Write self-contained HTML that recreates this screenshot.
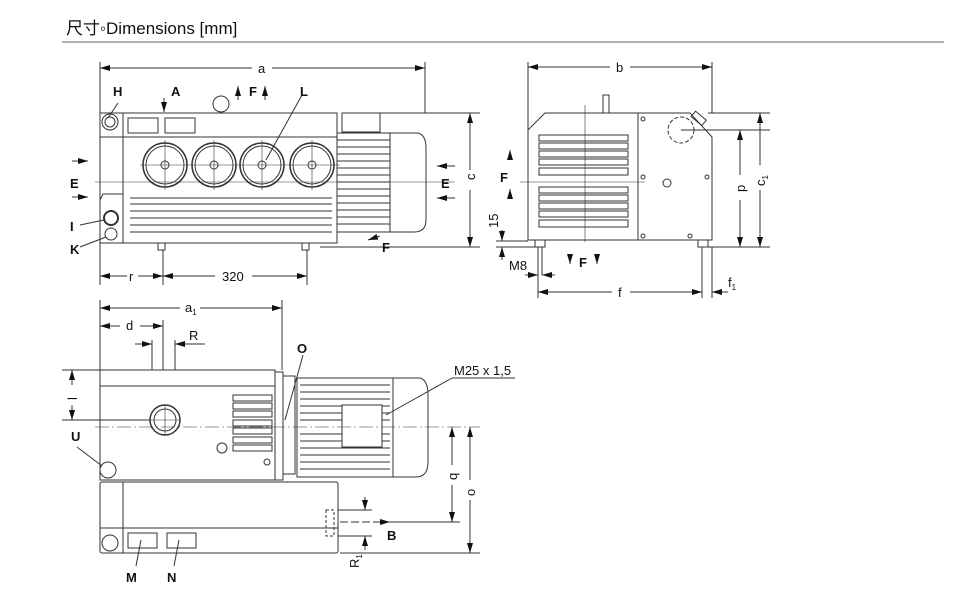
<!DOCTYPE html>
<html><head><meta charset="utf-8"><style>
body{margin:0;background:#fff;width:960px;height:613px;overflow:hidden}
svg{display:block}
text{font-family:"Liberation Sans","Noto Sans CJK SC",sans-serif;fill:#111}
.b{font-weight:bold;font-size:13px}
.d{font-size:13px}
</style></head><body>
<svg width="960" height="613" viewBox="0 0 960 613" xmlns="http://www.w3.org/2000/svg">
<defs>
<marker id="ar" viewBox="0 0 10 6" refX="10" refY="3" markerWidth="10" markerHeight="6" orient="auto-start-reverse" markerUnits="userSpaceOnUse"><path d="M0,0L10,3L0,6z" fill="#111"/></marker>
</defs>
<text x="66" y="34" font-size="17" style="font-family:'Liberation Sans','Noto Sans CJK SC',sans-serif">尺寸◦Dimensions [mm]</text>
<line x1="62" y1="42" x2="944" y2="42" stroke="#666" stroke-width="1"/>

<g stroke="#333" stroke-width="1" fill="none">
<!-- VIEW 1 -->
<line x1="100" y1="62" x2="100" y2="285"/><line x1="425" y1="62" x2="425" y2="113"/>
<line x1="100" y1="68" x2="252" y2="68" marker-start="url(#ar)"/><line x1="272" y1="68" x2="425" y2="68" marker-end="url(#ar)"/>
<rect x="100" y="113" width="237" height="130" fill="#fff"/>
<line x1="123" y1="113" x2="123" y2="243"/>
<line x1="100" y1="137" x2="337" y2="137"/>
<rect x="128" y="118" width="30" height="15"/><rect x="165" y="118" width="30" height="15"/>
<circle cx="110" cy="122" r="8"/><circle cx="110" cy="122" r="5"/>
<path d="M100 200 L103 194 H123"/>
<circle cx="111" cy="218" r="7" stroke-width="2"/><circle cx="111" cy="234" r="6"/>
<g>
<circle cx="165" cy="165" r="22" stroke-width="1.5"/><circle cx="165" cy="165" r="19"/><circle cx="165" cy="165" r="4"/>
<circle cx="214" cy="165" r="22" stroke-width="1.5"/><circle cx="214" cy="165" r="19"/><circle cx="214" cy="165" r="4"/>
<circle cx="262" cy="165" r="22" stroke-width="1.5"/><circle cx="262" cy="165" r="19"/><circle cx="262" cy="165" r="4"/>
<circle cx="312" cy="165" r="22" stroke-width="1.5"/><circle cx="312" cy="165" r="19"/><circle cx="312" cy="165" r="4"/>
<path d="M140 165H340M165 140V190M214 140V190M262 140V190M312 140V190" stroke-width="0.6"/>
</g>
<path d="M130 198H332M130 204H332M130 211H332M130 218H332M130 225H332M130 232H332"/>
<rect x="337" y="133" width="53" height="99"/>
<path d="M337 140H390M337 147H390M337 154H390M337 161H390M337 168H390M337 175H390M337 182H390M337 189H390M337 196H390M337 203H390M337 210H390M337 217H390M337 224H390"/>
<path d="M390 133 H418 Q426 135 426 148 V220 Q426 232 414 232 H390"/>
<rect x="342" y="113" width="38" height="19"/>
<circle cx="221" cy="104" r="8"/>
<rect x="158" y="243" width="7" height="7"/><rect x="302" y="243" width="7" height="7"/>
<line x1="163" y1="250" x2="163" y2="285"/><line x1="307" y1="250" x2="307" y2="285"/>
<line x1="100" y1="276" x2="127" y2="276" marker-start="url(#ar)"/><line x1="138" y1="276" x2="163" y2="276" marker-end="url(#ar)"/>
<line x1="163" y1="276" x2="215" y2="276" marker-start="url(#ar)"/><line x1="252" y1="276" x2="307" y2="276" marker-end="url(#ar)"/>
<line x1="380" y1="113" x2="480" y2="113"/><line x1="320" y1="247" x2="480" y2="247"/>
<line x1="470" y1="113" x2="470" y2="170" marker-start="url(#ar)"/><line x1="470" y1="190" x2="470" y2="247" marker-end="url(#ar)"/>
<line x1="95" y1="182" x2="455" y2="182" stroke-width="0.6"/>
<line x1="164" y1="98" x2="164" y2="112" marker-end="url(#ar)"/>
<line x1="238" y1="100" x2="238" y2="86" marker-end="url(#ar)"/><line x1="265" y1="100" x2="265" y2="86" marker-end="url(#ar)"/>
<line x1="72" y1="161" x2="88" y2="161" marker-end="url(#ar)"/><line x1="72" y1="197" x2="88" y2="197" marker-end="url(#ar)"/>
<line x1="455" y1="166" x2="437" y2="166" marker-end="url(#ar)"/><line x1="455" y1="198" x2="437" y2="198" marker-end="url(#ar)"/>
<line x1="380" y1="236" x2="368" y2="240" marker-end="url(#ar)"/>
<line x1="302" y1="95" x2="266" y2="160"/><line x1="118" y1="103" x2="108" y2="118"/>
<line x1="80" y1="225" x2="104" y2="220"/><line x1="80" y1="247" x2="106" y2="237"/>

<!-- VIEW 2 -->
<line x1="528" y1="62" x2="528" y2="130"/><line x1="712" y1="62" x2="712" y2="113"/>
<line x1="528" y1="67" x2="610" y2="67" marker-start="url(#ar)"/><line x1="630" y1="67" x2="712" y2="67" marker-end="url(#ar)"/>
<path d="M528 130 L545 113 H638 V240 H528 Z" fill="#fff"/>
<path d="M539 135h89v6h-89zM539 143h89v6h-89zM539 151h89v6h-89zM539 159h89v6h-89zM539 168h89v7h-89zM539 187h89v6h-89zM539 195h89v6h-89zM539 203h89v6h-89zM539 211h89v6h-89zM539 220h89v7h-89z"/>
<path d="M638 113 H690 L712 137 V240 H638 Z" fill="#fff"/>
<circle cx="681" cy="130" r="13" stroke-dasharray="4 2"/>
<circle cx="643" cy="119" r="2"/><circle cx="643" cy="177" r="2"/><circle cx="643" cy="236" r="2"/><circle cx="707" cy="177" r="2"/><circle cx="690" cy="236" r="2"/><circle cx="667" cy="183" r="4"/>
<rect x="692" y="115" width="14" height="7" transform="rotate(40 699 118)"/>
<rect x="603" y="95" width="6" height="18"/>
<rect x="535" y="240" width="10" height="7"/><rect x="698" y="240" width="10" height="7"/>
<line x1="520" y1="182" x2="645" y2="182" stroke-width="0.6"/><line x1="585" y1="105" x2="585" y2="242" stroke-width="0.6"/>
<line x1="681" y1="130" x2="770" y2="130"/><line x1="708" y1="113" x2="770" y2="113"/><line x1="708" y1="247" x2="770" y2="247"/>
<line x1="740" y1="130" x2="740" y2="175" marker-start="url(#ar)"/><line x1="740" y1="200" x2="740" y2="247" marker-end="url(#ar)"/>
<line x1="760" y1="113" x2="760" y2="165" marker-start="url(#ar)"/><line x1="760" y1="190" x2="760" y2="247" marker-end="url(#ar)"/>
<line x1="496" y1="241" x2="528" y2="241"/><line x1="496" y1="247" x2="535" y2="247"/>
<line x1="502" y1="230" x2="502" y2="241" marker-end="url(#ar)"/><line x1="502" y1="260" x2="502" y2="247" marker-end="url(#ar)"/>
<line x1="538" y1="247" x2="538" y2="298"/><line x1="542" y1="247" x2="542" y2="275"/><line x1="702" y1="247" x2="702" y2="298"/><line x1="712" y1="247" x2="712" y2="298"/>
<line x1="525" y1="275" x2="538" y2="275" marker-end="url(#ar)"/><line x1="555" y1="275" x2="542" y2="275" marker-end="url(#ar)"/>
<line x1="538" y1="292" x2="612" y2="292" marker-start="url(#ar)"/><line x1="630" y1="292" x2="702" y2="292" marker-end="url(#ar)"/>
<line x1="728" y1="292" x2="712" y2="292" marker-end="url(#ar)"/>
<line x1="510" y1="157" x2="510" y2="150" marker-end="url(#ar)"/><line x1="510" y1="196" x2="510" y2="189" marker-end="url(#ar)"/>
<line x1="570" y1="255" x2="570" y2="264" marker-end="url(#ar)"/><line x1="597" y1="255" x2="597" y2="264" marker-end="url(#ar)"/>

<!-- VIEW 3 -->
<line x1="100" y1="300" x2="100" y2="470"/><line x1="282" y1="300" x2="282" y2="370"/>
<line x1="100" y1="308" x2="180" y2="308" marker-start="url(#ar)"/><line x1="200" y1="308" x2="282" y2="308" marker-end="url(#ar)"/>
<line x1="163" y1="320" x2="163" y2="420"/>
<line x1="100" y1="326" x2="120" y2="326" marker-start="url(#ar)"/><line x1="140" y1="326" x2="163" y2="326" marker-end="url(#ar)"/>
<line x1="152" y1="340" x2="152" y2="420"/><line x1="175" y1="340" x2="175" y2="420"/>
<line x1="135" y1="344" x2="152" y2="344" marker-end="url(#ar)"/><line x1="205" y1="344" x2="175" y2="344" marker-end="url(#ar)"/>
<rect x="100" y="370" width="175" height="110" fill="#fff"/>
<line x1="100" y1="386" x2="275" y2="386"/>
<circle cx="165" cy="420" r="15" stroke-width="1.5"/><circle cx="165" cy="420" r="11"/>
<path d="M165 405V435M150 420H180" stroke-width="0.6"/>
<path d="M233 395h39v6h-39zM233 403h39v6h-39zM233 411h39v6h-39zM233 420h39v6h-39zM233 428h39v6h-39zM233 437h39v6h-39zM233 445h39v6h-39z"/>
<circle cx="222" cy="448" r="5"/><circle cx="267" cy="462" r="3"/>
<circle cx="108" cy="470" r="8"/>
<rect x="275" y="372" width="8" height="108"/><rect x="283" y="376" width="12" height="98"/>
<rect x="297" y="378" width="96" height="99" fill="#fff"/>
<path d="M300 385H390M300 392H390M300 399H390M300 406H390M300 413H390M300 420H390M300 434H390M300 441H390M300 448H390M300 455H390M300 462H390M300 469H390"/>
<path d="M393 378 H420 Q428 380 428 395 V462 Q428 477 416 477 H393"/>
<rect x="342" y="405" width="40" height="42" fill="#fff"/>
<rect x="100" y="482" width="238" height="71" fill="#fff" rx="2"/>
<line x1="123" y1="482" x2="123" y2="553"/><line x1="100" y1="528" x2="338" y2="528"/>
<rect x="128" y="533" width="29" height="15"/><rect x="167" y="533" width="29" height="15"/>
<circle cx="110" cy="543" r="8"/>
<rect x="326" y="510" width="8" height="26" stroke-dasharray="3 2"/>
<line x1="95" y1="427" x2="480" y2="427" stroke-width="0.6" stroke-dasharray="14 3 2 3"/>
<line x1="62" y1="370" x2="100" y2="370"/><line x1="62" y1="420" x2="150" y2="420"/>
<line x1="72" y1="385" x2="72" y2="370" marker-end="url(#ar)"/><line x1="72" y1="405" x2="72" y2="420" marker-end="url(#ar)"/>
<line x1="340" y1="522" x2="390" y2="522" marker-end="url(#ar)" stroke-dasharray="8 3"/>
<line x1="390" y1="522" x2="460" y2="522"/><line x1="340" y1="553" x2="480" y2="553"/>
<line x1="452" y1="427" x2="452" y2="465" marker-start="url(#ar)"/><line x1="452" y1="485" x2="452" y2="522" marker-end="url(#ar)"/>
<line x1="470" y1="427" x2="470" y2="480" marker-start="url(#ar)"/><line x1="470" y1="500" x2="470" y2="553" marker-end="url(#ar)"/>
<line x1="338" y1="510" x2="372" y2="510"/><line x1="338" y1="536" x2="372" y2="536"/>
<line x1="365" y1="497" x2="365" y2="510" marker-end="url(#ar)"/><line x1="365" y1="550" x2="365" y2="536" marker-end="url(#ar)"/>
<line x1="452" y1="378" x2="515" y2="378"/><line x1="452" y1="378" x2="386" y2="415"/>
<line x1="303" y1="355" x2="285" y2="420"/>
<line x1="77" y1="447" x2="102" y2="466"/>
<line x1="136" y1="566" x2="141" y2="540"/><line x1="174" y1="566" x2="179" y2="540"/>
</g>

<!-- labels -->
<text class="d" x="258" y="73">a</text>
<text class="b" x="113" y="96">H</text><text class="b" x="171" y="96">A</text><text class="b" x="249" y="96">F</text><text class="b" x="300" y="96">L</text>
<text class="b" x="70" y="188">E</text><text class="b" x="441" y="188">E</text>
<text class="b" x="70" y="231">I</text><text class="b" x="70" y="254">K</text>
<text class="b" x="382" y="252">F</text>
<text class="d" x="129" y="281">r</text><text class="d" x="222" y="281">320</text>
<text class="d" transform="translate(475,180) rotate(-90)">c</text>
<text class="d" x="616" y="72">b</text>
<text class="b" x="500" y="182">F</text><text class="b" x="579" y="267">F</text>
<text class="d" transform="translate(498,228) rotate(-90)">15</text>
<text class="d" x="509" y="270">M8</text>
<text class="d" x="618" y="297">f</text><text class="d" x="728" y="287">f<tspan font-size="8" dy="3">1</tspan></text>
<text class="d" transform="translate(745,192) rotate(-90)">p</text>
<text class="d" transform="translate(765,186) rotate(-90)">c<tspan font-size="8" dy="3">1</tspan></text>
<text class="d" x="185" y="312">a<tspan font-size="8" dy="3">1</tspan></text>
<text class="d" x="126" y="330">d</text><text class="d" x="189" y="340">R</text>
<text class="b" x="297" y="353">O</text>
<text class="d" x="454" y="375">M25 x 1,5</text>
<text class="d" transform="translate(77,400) rotate(-90)">l</text>
<text class="b" x="71" y="441">U</text>
<text class="d" transform="translate(457,480) rotate(-90)">q</text>
<text class="d" transform="translate(475,496) rotate(-90)">o</text>
<text class="b" x="387" y="540">B</text>
<text class="d" transform="translate(359,568) rotate(-90)">R<tspan font-size="8" dy="3">1</tspan></text>
<text class="b" x="126" y="582">M</text><text class="b" x="167" y="582">N</text>
</svg>
</body></html>
